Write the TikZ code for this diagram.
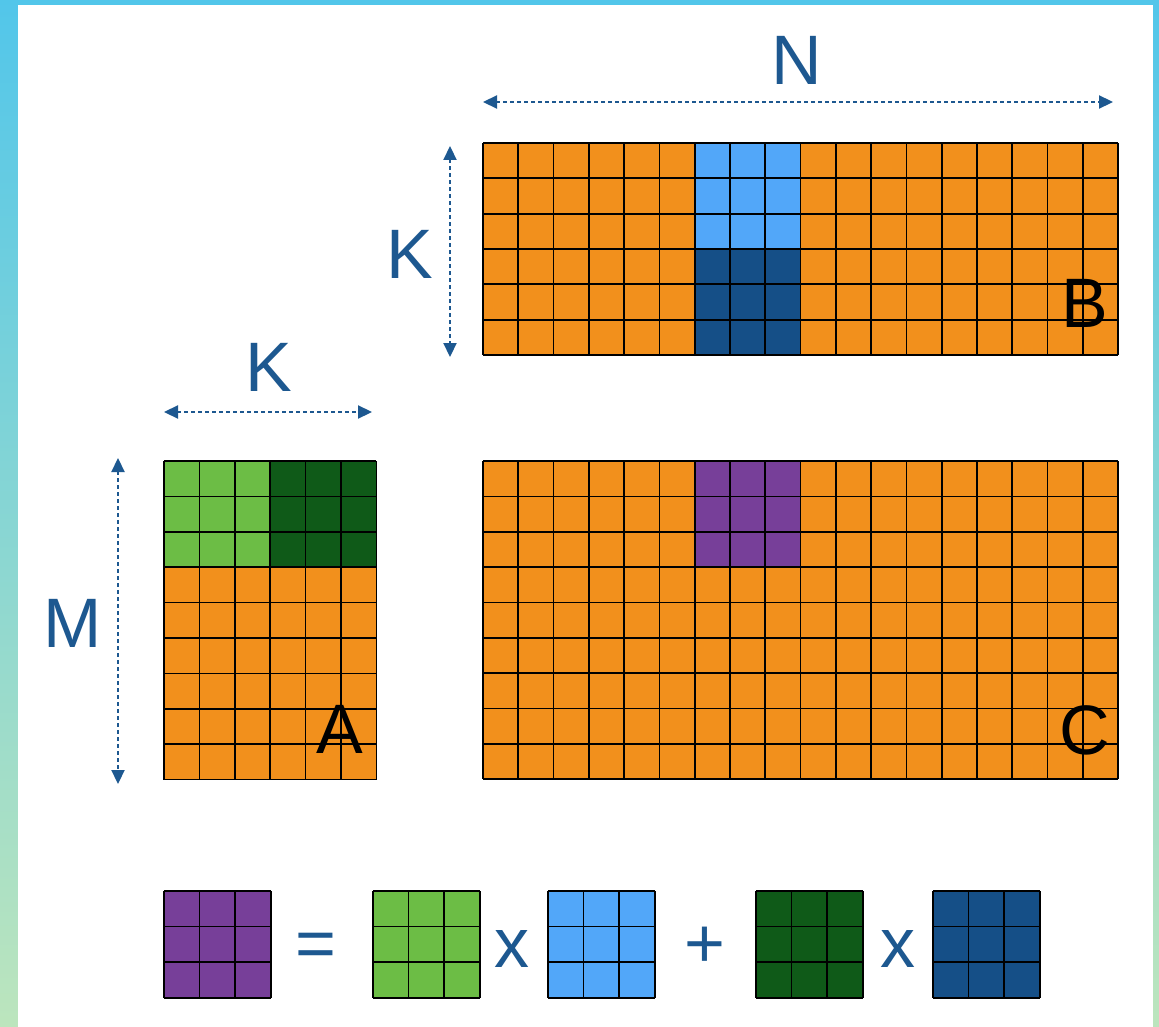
\documentclass[tikz,border=0pt]{standalone}
\usepackage{fontspec}
\setmainfont{Liberation Sans}
\usepackage{tikz}
\usetikzlibrary{arrows.meta, positioning}

\definecolor{matorange}{HTML}{F2901C}
\definecolor{tileblue}{HTML}{52A7F9}
\definecolor{tiledeepblue}{HTML}{154F87}
\definecolor{tilegreen}{HTML}{6CBD45}
\definecolor{tiledeepgreen}{HTML}{0F5A18}
\definecolor{tilepurple}{HTML}{773F99}
\definecolor{dimblue}{HTML}{1D5890}
\definecolor{frametop}{HTML}{52C6EA}
\definecolor{framebot}{HTML}{BCE5BD}

\begin{document}
\begin{tikzpicture}[x=1pt,y=-1pt,>=Stealth,
    cellline/.style={black,line width=1.7pt},
    dimarrow/.style={dimblue,line width=2.2pt,dash pattern=on 4pt off 3pt,
                     {Triangle[length=14pt,width=13pt]}-{Triangle[length=14pt,width=13pt]}},
    dimlabel/.style={dimblue,font=\fontsize{70}{72}\selectfont,anchor=base,inner sep=0pt},
    matlabel/.style={black,font=\fontsize{70}{72}\selectfont,anchor=base,inner sep=0pt}]
  \useasboundingbox (0,0) rectangle (1159,1027);
  % ---- frame ----
  \shade[top color=frametop,bottom color=framebot] (0,0) rectangle (1159,1027);
  \fill[white] (18,5) rectangle (1153,1027);

  % ---- matrix B (K x N) ----
  \begin{scope}[shift={(483,143)},x=35.28pt,y=-35.33pt]
    \fill[matorange] (0,0) rectangle (18,6);
    \fill[tileblue] (6,0) rectangle (9,3);
    \fill[tiledeepblue] (6,3) rectangle (9,6);
    \foreach \i in {0,...,18} \draw[cellline] (\i,0) -- (\i,6);
    \foreach \j in {0,...,6} \draw[cellline] (0,\j) -- (18,\j);
  \end{scope}
  \node[matlabel] (labB) at (1085,327) {B};

  % ---- matrix A (M x K) ----
  \begin{scope}[shift={(164,461)},x=35.4pt,y=-35.4pt]
    \fill[matorange] (0,0) rectangle (6,9);
    \fill[tilegreen] (0,0) rectangle (3,3);
    \fill[tiledeepgreen] (3,0) rectangle (6,3);
    \foreach \i in {0,...,6} \draw[cellline] (\i,0) -- (\i,9);
    \foreach \j in {0,...,9} \draw[cellline] (0,\j) -- (6,\j);
  \end{scope}
  \node[matlabel] (labA) at (340,753) {A};

  % ---- matrix C (M x N) ----
  \begin{scope}[shift={(483,461)},x=35.28pt,y=-35.35pt]
    \fill[matorange] (0,0) rectangle (18,9);
    \fill[tilepurple] (6,0) rectangle (9,3);
    \foreach \i in {0,...,18} \draw[cellline] (\i,0) -- (\i,9);
    \foreach \j in {0,...,9} \draw[cellline] (0,\j) -- (18,\j);
  \end{scope}
  \node[matlabel] (labC) at (1085,754) {C};

  % ---- dimensions ----
  \coordinate (nL) at (483,102);
  \coordinate (nR) at (1113,102);
  \draw[dimarrow] (nL) -- (nR);
  \node[dimlabel] (labN) at (797,85) {N};

  \coordinate (kbT) at (450,146);
  \coordinate (kbB) at (450,357);
  \draw[dimarrow] (kbT) -- (kbB);
  \node[dimlabel] (labKb) at (410,278) {K};

  \coordinate (kaL) at (164,412);
  \coordinate (kaR) at (372,412);
  \draw[dimarrow] (kaL) -- (kaR);
  \node[dimlabel] (labKa) at (269,391) {K};

  \coordinate (mT) at (118,458);
  \coordinate (mB) at (118,784);
  \draw[dimarrow] (mT) -- (mB);
  \node[dimlabel] (labM) at (73,647) {M};

  % ---- tile equation ----
  \foreach \x/\c in {164/tilepurple,373/tilegreen,548/tileblue,756/tiledeepgreen,933/tiledeepblue} {
    \begin{scope}[shift={(\x,891)},x=35.6pt,y=-35.6pt]
      \fill[\c] (0,0) rectangle (3,3);
      \foreach \i in {0,...,3} \draw[cellline] (\i,0) -- (\i,3);
      \foreach \j in {0,...,3} \draw[cellline] (0,\j) -- (3,\j);
    \end{scope}
  }
  \node[dimlabel] (opEq) at (316,967) {=};
  \node[dimlabel] (opX1) at (512,967) {x};
  \node[dimlabel] (opPlus) at (705,967) {+};
  \node[dimlabel] (opX2) at (898,967) {x};
\end{tikzpicture}
\end{document}
